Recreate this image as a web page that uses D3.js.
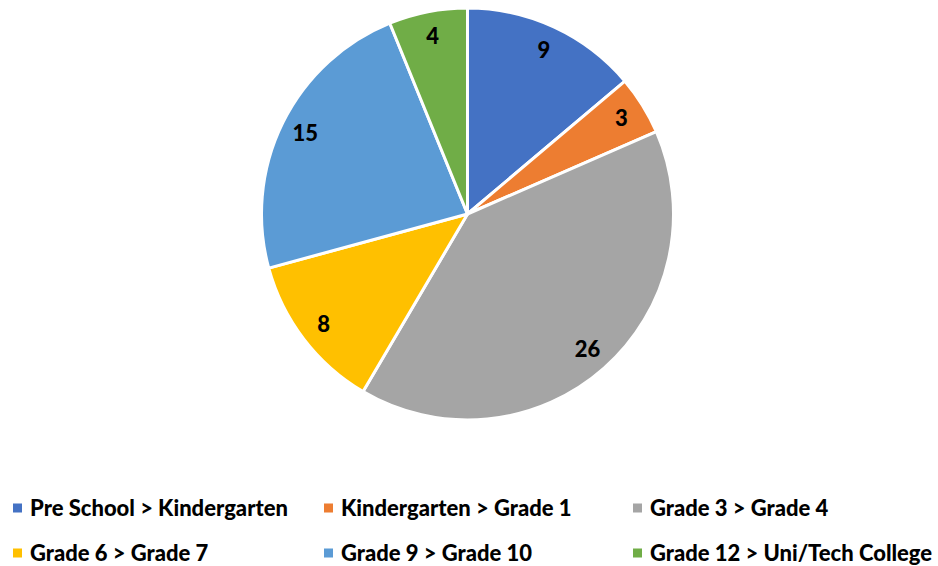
<html>
  <head>
    <script src="https://cdn.jsdelivr.net/npm/d3@7/dist/d3.min.js" charset="utf-8"></script>
    <style>
      body { margin: 0; background: #fff; }
      text { font-family: Lato, "Open Sans", sans-serif; font-weight: 900; }
    </style>
  </head>
  <body>
    <div id="main"></div>
  <script>
    // chart data
    var categories = [
      'Pre School > Kindergarten',
      'Kindergarten > Grade 1',
      'Grade 3 > Grade 4',
      'Grade 6 > Grade 7',
      'Grade 9 > Grade 10',
      'Grade 12 > Uni/Tech College'
    ];
    var counts = [9, 3, 26, 8, 15, 4];
    var colors = ['#4472C4', '#ED7D31', '#A5A5A5', '#FFC000', '#5B9BD5', '#70AD47'];

    var svgWidth = 938;
    var svgHeight = 566;
    var radius = 206;
    var cx = 467.5, cy = 214;

    var dataset = categories.map(function(c, i) { return { label: c, count: counts[i] }; });

    var color = d3.scaleOrdinal().domain(categories).range(colors);

    var svg = d3.select('#main')
      .append('svg')
      .attr('width', svgWidth)
      .attr('height', svgHeight);

    var g = svg.append('g')
      .attr('transform', 'translate(' + cx + ',' + cy + ')');

    var arc = d3.arc().innerRadius(0).outerRadius(radius);
    var labelArc = d3.arc().innerRadius(181).outerRadius(181);

    var pie = d3.pie()
      .value(function(d) { return d.count; })
      .sort(null);

    var slices = pie(dataset);

    g.selectAll('path')
      .data(slices)
      .enter()
      .append('path')
      .attr('d', arc)
      .attr('fill', function(d) { return color(d.data.label); })
      .attr('stroke', '#fff')
      .attr('stroke-width', 3)
      .attr('stroke-linejoin', 'round');

    g.selectAll('text.val')
      .data(slices)
      .enter()
      .append('text')
      .attr('class', 'val')
      .attr('transform', function(d) { return 'translate(' + labelArc.centroid(d) + ')'; })
      .attr('text-anchor', 'middle')
      .attr('dy', '0.35em')
      .style('font-size', '22px')
      .attr('fill', '#000')
      .text(function(d) { return d.data.count; });

    // legend, 3 columns x 2 rows
    var colX = [13, 324, 633];
    var rowY = [508, 553];

    var legend = svg.selectAll('g.legend')
      .data(dataset)
      .enter()
      .append('g')
      .attr('class', 'legend')
      .attr('transform', function(d, i) {
        return 'translate(' + colX[i % 3] + ',' + rowY[Math.floor(i / 3)] + ')';
      });

    legend.append('rect')
      .attr('x', 0)
      .attr('y', -4.5)
      .attr('width', 9)
      .attr('height', 9)
      .attr('fill', function(d) { return color(d.label); });

    legend.append('text')
      .attr('x', 17)
      .attr('dy', '0.35em')
      .style('font-size', '22px')
      .attr('fill', '#000')
      .text(function(d) { return d.label; });
  </script>
  </body>
</html>
